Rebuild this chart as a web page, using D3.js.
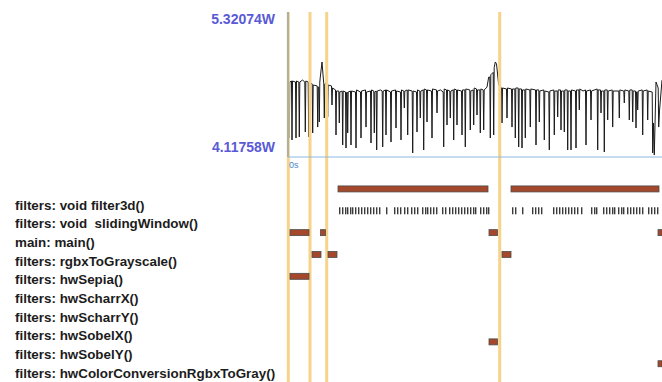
<!DOCTYPE html>
<html>
<head>
<meta charset="utf-8">
<script src="https://cdn.jsdelivr.net/npm/d3@7"></script>
<style>
  html, body { margin: 0; padding: 0; background: #fff; }
  svg { display: block; }
</style>
</head>
<body>
<svg id="chart"></svg>
<script>
const W = 662;
const H = 382;

// power range shown on the axis (watts)
const powerMin = 4.11758;
const powerMax = 5.32074;
// time span of the capture (ms)
const timeSpan = 374;

// power trace: [time ms, watts]
const powerSamples = [
  [0.5, 4.732], [0.9, 4.740], [1.3, 4.275], [1.8, 4.740], [3.5, 4.748], [4, 4.259], [4.5, 4.748], [7.5, 4.740],
  [8, 4.275], [8.5, 4.748], [10.8, 4.740], [11.3, 4.284], [11.8, 4.740], [14.5, 4.756], [16.8, 4.740], [17.3, 4.325],
  [17.8, 4.748], [20.2, 4.740], [20.7, 4.284], [21.2, 4.732], [24.2, 4.724], [24.7, 4.317], [25.2, 4.715],
  [29.2, 4.707], [29.7, 4.366], [30.2, 4.698], [30.8, 4.698], [31.3, 4.408], [31.8, 4.740], [32.3, 4.781],
  [34, 4.906], [35, 4.800], [35.8, 4.724], [36.3, 4.441], [36.8, 4.724], [38.5, 4.732], [39.2, 4.724],
  [39.7, 4.450], [40.2, 4.715], [43.5, 4.707], [44, 4.549], [44.5, 4.690], [47.5, 4.674], [48, 4.300],
  [48.5, 4.665], [50.8, 4.665], [51.3, 4.400], [51.8, 4.657], [54.2, 4.665], [54.7, 4.217], [55.2, 4.665],
  [57.5, 4.657], [58, 4.192], [58.5, 4.649], [59.2, 4.657], [59.7, 4.317], [60.2, 4.657], [62.5, 4.665],
  [63, 4.217], [63.5, 4.665], [67.5, 4.657], [68, 4.192], [68.5, 4.674], [72.5, 4.657], [73, 4.275],
  [73.5, 4.665], [77.5, 4.674], [78, 4.366], [78.5, 4.657], [82.5, 4.665], [83, 4.234], [83.5, 4.674],
  [85.8, 4.665], [86.3, 4.317], [86.8, 4.657], [88.2, 4.665], [88.7, 4.176], [89.2, 4.665], [92.5, 4.674],
  [94.2, 4.665], [94.7, 4.201], [95.2, 4.665], [97.5, 4.674], [98, 4.300], [98.5, 4.674], [102.5, 4.657],
  [103, 4.242], [103.5, 4.665], [107.5, 4.674], [108, 4.358], [108.5, 4.665], [112.5, 4.657], [113, 4.259],
  [113.5, 4.674], [115.8, 4.665], [116.3, 4.524], [116.8, 4.665], [119.2, 4.674], [119.7, 4.300], [120.2, 4.674],
  [124.2, 4.665], [124.7, 4.151], [125.2, 4.665], [128.5, 4.657], [129, 4.325], [129.5, 4.674], [131.8, 4.665],
  [132.3, 4.441], [132.8, 4.665], [135.2, 4.674], [135.7, 4.176], [136.2, 4.682], [138.5, 4.674], [139, 4.408],
  [139.5, 4.674], [143.5, 4.665], [144, 4.275], [144.5, 4.682], [148.5, 4.674], [149, 4.483], [149.5, 4.665],
  [152.5, 4.674], [155.2, 4.657], [155.7, 4.201], [156.2, 4.682], [158.5, 4.674], [159, 4.383], [159.5, 4.674],
  [161.8, 4.665], [162.3, 4.441], [162.8, 4.665], [165.2, 4.674], [165.7, 4.259], [166.2, 4.682], [168.5, 4.674],
  [169, 4.383], [169.5, 4.674], [173.5, 4.665], [174, 4.300], [174.5, 4.674], [176.8, 4.674], [177.3, 4.201],
  [177.8, 4.682], [181.8, 4.674], [182.3, 4.342], [182.8, 4.665], [185.2, 4.674], [185.7, 4.383], [186.2, 4.690],
  [188.5, 4.682], [189, 4.466], [189.5, 4.674], [191.8, 4.674], [192.3, 4.317], [192.8, 4.682], [195.2, 4.674],
  [195.7, 4.342], [196.2, 4.674], [199, 4.698], [200.7, 4.781], [201.8, 4.781], [202.3, 4.275], [202.8, 4.800],
  [205.2, 4.820], [205.7, 4.300], [206.2, 4.860], [207.3, 4.906], [208.5, 4.890], [210.7, 4.715], [213.5, 4.690],
  [214, 4.400], [214.5, 4.690], [218.5, 4.682], [219, 4.441], [219.5, 4.690], [223.5, 4.682], [224, 4.366],
  [224.5, 4.682], [226.8, 4.682], [227.3, 4.275], [227.8, 4.690], [230.2, 4.690], [230.7, 4.201], [231.2, 4.682],
  [233.5, 4.682], [234, 4.192], [234.5, 4.674], [236.8, 4.674], [237.3, 4.275], [237.8, 4.682], [241.8, 4.674],
  [242.3, 4.366], [242.8, 4.682], [247.5, 4.674], [248, 4.217], [248.5, 4.674], [250.8, 4.674], [251.3, 4.408],
  [251.8, 4.665], [255.8, 4.674], [256.3, 4.259], [256.8, 4.665], [260.8, 4.657], [261.3, 4.176], [261.8, 4.665],
  [265.8, 4.674], [266.3, 4.300], [266.8, 4.665], [269.2, 4.665], [269.7, 4.450], [270.2, 4.674], [272.5, 4.674],
  [273, 4.342], [273.5, 4.665], [275.8, 4.665], [276.3, 4.325], [276.8, 4.674], [279.2, 4.674], [279.7, 4.176],
  [280.2, 4.665], [282.5, 4.665], [283, 4.176], [283.5, 4.674], [287.5, 4.665], [288, 4.192], [288.5, 4.674],
  [290.8, 4.674], [291.3, 4.508], [291.8, 4.682], [295, 4.665], [297.5, 4.674], [298, 4.217], [298.5, 4.665],
  [302.5, 4.674], [303, 4.425], [303.5, 4.665], [309.2, 4.682], [309.7, 4.176], [310.2, 4.674], [312.5, 4.674],
  [313, 4.483], [313.5, 4.665], [315.8, 4.665], [316.3, 4.159], [316.8, 4.674], [319.2, 4.674], [319.7, 4.425],
  [320.2, 4.665], [324.2, 4.674], [324.7, 4.366], [325.2, 4.665], [330.8, 4.665], [331.3, 4.441], [331.8, 4.674],
  [335.8, 4.665], [336.3, 4.566], [336.8, 4.674], [340.8, 4.665], [341.3, 4.425], [341.8, 4.674], [344.2, 4.674],
  [344.7, 4.408], [345.2, 4.665], [347.5, 4.665], [348, 4.358], [348.5, 4.657], [349.2, 4.657], [349.7, 4.508],
  [350.2, 4.665], [354.2, 4.674], [354.7, 4.300], [355.2, 4.665], [359.2, 4.674], [359.7, 4.425], [360.2, 4.665],
  [364.2, 4.657], [364.7, 4.151], [365.5, 4.400], [366.3, 4.134], [368, 4.740], [370.2, 4.690], [370.7, 4.366],
  [371.5, 4.500], [374, 4.756]
];

// function rows, top to bottom
const functionNames = [
  'filters: void filter3d()',
  'filters: void  slidingWindow()',
  'main: main()',
  'filters: rgbxToGrayscale()',
  'filters: hwSepia()',
  'filters: hwScharrX()',
  'filters: hwScharrY()',
  'filters: hwSobelX()',
  'filters: hwSobelY()',
  'filters: hwColorConversionRgbxToGray()'
];

// call intervals: [row, start ms, end ms]
const calls = [
  [0, 50, 200], [0, 223, 371],
  [2, 2, 21], [2, 32.5, 37.5], [2, 201, 209.5], [2, 370, 376],
  [3, 24, 33], [3, 40, 49], [3, 214, 223],
  [4, 2, 21],
  [7, 201, 209.5],
  [8, 370, 376]
];

// short slidingWindow() calls (start ms)
const slidingCalls = [
  51, 54, 57, 59, 62, 64, 67, 70, 73, 76, 79, 82, 85, 88, 91, 98,
  106, 109, 112, 116, 119, 123, 126, 129, 134, 137, 139, 142, 145, 148, 154, 157,
  161, 164, 167, 170, 173, 176, 179, 182, 185, 187, 192, 195, 198, 200,
  224, 227, 234, 244, 247, 250, 253, 265, 268, 271, 274, 277, 280, 283, 286, 289,
  293, 303, 306, 308, 315, 318, 321, 324, 326, 330, 333, 335, 339, 342, 345, 348,
  351, 354, 360, 363, 366, 369
];

// marker lines (ms)
const markers = [0.3, 22, 38.7, 211.7];

const svg = d3.select('#chart')
  .attr('width', W)
  .attr('height', H)
  .style('background', '#fff');

const x = d3.scaleLinear().domain([0, timeSpan]).range([288, 662]);
const yPower = d3.scaleLinear().domain([powerMin, powerMax]).range([157, 12]);
const rowBand = d3.scaleBand().domain(d3.range(functionNames.length)).range([178, 396.5]);
const labelY = d3.scalePoint().domain(d3.range(functionNames.length)).range([205, 373]);

// power trace
const line = d3.line()
  .x((d) => x(d[0]))
  .y((d) => yPower(d[1]));

svg.append('path')
  .datum(powerSamples)
  .attr('d', line)
  .attr('fill', 'none')
  .attr('stroke', '#1a1a1a')
  .attr('stroke-width', 1)
  .attr('stroke-linejoin', 'round');

// marker lines
svg.append('g')
  .selectAll('line')
  .data(markers)
  .enter()
  .append('line')
  .attr('x1', (d) => x(d))
  .attr('x2', (d) => x(d))
  .attr('y1', 12)
  .attr('y2', H)
  .attr('stroke', '#f5d38a')
  .attr('stroke-width', 3);

// power axis frame
svg.append('line')
  .attr('x1', x(0)).attr('x2', x(0))
  .attr('y1', yPower(powerMax)).attr('y2', yPower(powerMin))
  .attr('stroke', '#5b8fc7').attr('stroke-width', 1);
svg.append('line')
  .attr('x1', x(0)).attr('x2', W)
  .attr('y1', yPower(powerMin)).attr('y2', yPower(powerMin))
  .attr('stroke', '#8fb8e0').attr('stroke-width', 1);

svg.append('text')
  .attr('x', x(0) + 1)
  .attr('y', yPower(powerMin) + 11)
  .attr('fill', '#4a86c8')
  .style('font', '9px "Liberation Sans", sans-serif')
  .text('0s');

const powerLabels = svg.append('g')
  .style('font', 'bold 14px "Liberation Sans", sans-serif')
  .attr('fill', '#5a5ad6')
  .attr('text-anchor', 'end');
powerLabels.append('text')
  .attr('x', 275)
  .attr('y', yPower(powerMax) + 12)
  .text(d3.format('.5f')(powerMax) + 'W');
powerLabels.append('text')
  .attr('x', 275)
  .attr('y', yPower(powerMin) - 5)
  .text(d3.format('.5f')(powerMin) + 'W');

// function labels
svg.append('g')
  .selectAll('text')
  .data(functionNames)
  .enter()
  .append('text')
  .attr('x', 15)
  .attr('y', (d, i) => labelY(i))
  .attr('dy', '0.35em')
  .attr('fill', '#1c1c1c')
  .style('font', 'bold 13.4px "Liberation Sans", sans-serif')
  .style('white-space', 'pre')
  .text((d) => d);

// call bars
const barH = 6;
svg.append('g')
  .selectAll('rect')
  .data(calls)
  .enter()
  .append('rect')
  .attr('x', (d) => x(d[1]))
  .attr('y', (d) => rowBand(d[0]) + rowBand.bandwidth() / 2 - barH / 2)
  .attr('width', (d) => Math.max(1, Math.min(x(d[2]), W) - x(d[1])))
  .attr('height', barH)
  .attr('fill', '#a4472a')
  .attr('stroke', '#4d4d4d')
  .attr('stroke-width', 0.8);

// slidingWindow calls
svg.append('g')
  .selectAll('rect')
  .data(slidingCalls)
  .enter()
  .append('rect')
  .attr('x', (d) => x(d))
  .attr('y', rowBand(1) + rowBand.bandwidth() / 2 - 3.5)
  .attr('width', 1.4)
  .attr('height', 7)
  .attr('fill', '#3a3a3a');
</script>
</body>
</html>
